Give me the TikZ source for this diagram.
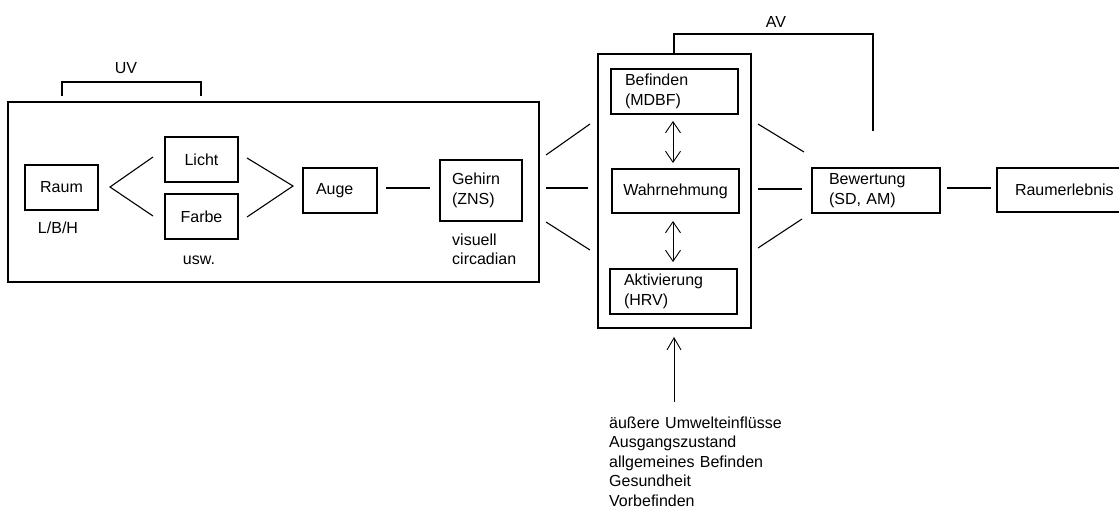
\documentclass[tikz,border=0pt]{standalone}
\usepackage{fontspec}
\setmainfont{Liberation Sans}
\usetikzlibrary{arrows.meta,calc}
\tikzset{
  box/.style={draw, line width=1.1pt, inner ysep=0pt, minimum height=45pt},
  lbox/.style={box, align=left, inner xsep=#1},
  ln/.style={line width=1.1pt},
  brk/.style={line width=2.2pt},
  dbl/.style={line width=0.9pt, {Straight Barb[length=11pt,width=15pt]}-{Straight Barb[length=11pt,width=15pt]}},
  sgl/.style={line width=0.9pt, -{Straight Barb[length=12pt,width=14pt]}},
  lbl/.style={inner sep=0pt},
}
\begin{document}
\begin{tikzpicture}[x=1pt,y=-1pt,font=\fontsize{16}{19.5}\selectfont]
\useasboundingbox (0,0) rectangle (1119,509);
% UV group
\node[draw, line width=1.4pt, minimum width=531pt, minimum height=180pt, inner sep=0pt] (uv) at (273.5,192) {};
\node[lbl, anchor=base] (uvl) at (126,73) {UV};
\draw[brk] (62,96) |- (201,82) -- (201,96);
\node[box, minimum width=73pt, inner xsep=0pt] (raum) at (61.5,187.5) {Raum};
\node[box, minimum width=73pt, inner xsep=0pt] (licht) at (201.5,159.5) {Licht};
\node[box, minimum width=73pt, inner xsep=0pt] (farbe) at (201.5,216.5) {Farbe};
\node[lbox=13pt, text width=48pt] (auge) at (340,190.5) {Auge};
\node[lbox=12pt, text width=58pt, minimum height=61pt] (gehirn) at (481,190.5) {Gehirn\\(ZNS)};
\node[lbl, anchor=base] (lbh) at (58,233) {L/B/H};
\node[lbl, anchor=base] (usw) at (199,264) {usw.};
\node[lbl, anchor=base west, align=left, text width=100pt] (vis) at (452,245) {visuell\\circadian};
% connectors inside UV
\coordinate (ra) at (110,187);
\coordinate (rl) at (153,157);
\coordinate (rf) at (153,216);
\draw[ln] (rl) -- (ra) -- (rf);
\coordinate (al) at (247,158);
\coordinate (af) at (247,217);
\coordinate (aa) at (293,186);
\draw[ln] (al) -- (aa) -- (af);
\draw[ln] (386,188) coordinate (ag1) -- (430,188) coordinate (ag2);
% AV group
\node[draw, line width=2.2pt, minimum width=153pt, minimum height=274pt, inner sep=0pt] (av) at (674.5,191) {};
\node[lbox=14pt, text width=99pt] (befinden) at (674.5,91.5) {Befinden\\(MDBF)};
\node[box, minimum width=127pt, minimum height=44pt, inner xsep=0pt] (wahr) at (675.5,191) {Wahrnehmung};
\node[lbox=14pt, text width=99pt] (aktiv) at (673.5,291.5) {Aktivierung\\(HRV)};
\draw[dbl] (673,121) -- (673,163);
\draw[dbl] (673,221) -- (673,262);
\node[lbl, anchor=base] (avl) at (776,27) {AV};
\draw[brk] (674,55) |- (873,34) -- (873,131);
% UV -> AV lines
\draw[ln] (546,155) coordinate (u1) -- (590,124) coordinate (v1);
\draw[ln] (546,188) coordinate (u2) -- (588,188) coordinate (v2);
\draw[ln] (546,222) coordinate (u3) -- (590,250) coordinate (v3);
% AV -> Bewertung lines
\draw[ln] (758,124) coordinate (w1) -- (804,152) coordinate (b1);
\draw[ln] (758,189) coordinate (w2) -- (802,189) coordinate (b2);
\draw[ln] (758,248) coordinate (w3) -- (802,219) coordinate (b3);
\node[lbox=17pt, text width=94pt] (bew) at (876,190.5) {Bewertung\\(SD, AM)};
\node[lbox=18pt, text width=104pt, minimum height=44pt] (rerl) at (1067,190) {Raumerlebnis};
\draw[ln] (947,188) coordinate (br1) -- (991,188) coordinate (br2);
% influences
\coordinate (infs) at (674,402);
\draw[sgl] (infs) -- (674,337);
\node[lbl, anchor=base west, align=left, text width=220pt] (infl) at (609,428) {äußere Umwelteinflüsse\\Ausgangszustand\\allgemeines Befinden\\Gesundheit\\Vorbefinden};
\end{tikzpicture}
\end{document}
